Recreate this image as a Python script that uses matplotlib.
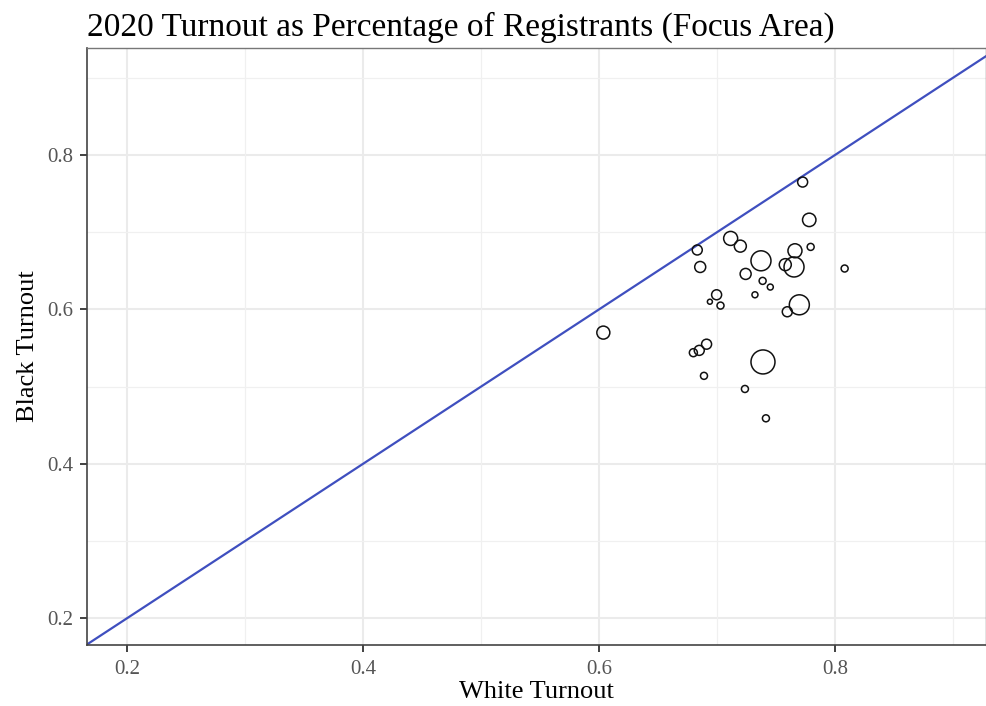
import numpy as np
import matplotlib.pyplot as plt

# White vs Black turnout per precinct, with a relative size weight
white_turnout = [0.7726, 0.7782, 0.7116, 0.7198, 0.6833, 0.6858, 0.7373, 0.7661,
                 0.7794, 0.7579, 0.7653, 0.8082, 0.7243, 0.7387, 0.7452, 0.7322,
                 0.6997, 0.6940, 0.7030, 0.7698, 0.7596, 0.6037, 0.6912, 0.6850,
                 0.6800, 0.7390, 0.6890, 0.7237, 0.7415]
black_turnout = [0.765, 0.716, 0.692, 0.682, 0.677, 0.655, 0.663, 0.676,
                 0.681, 0.658, 0.655, 0.653, 0.646, 0.637, 0.629, 0.619,
                 0.619, 0.610, 0.605, 0.606, 0.597, 0.570, 0.555, 0.547,
                 0.544, 0.532, 0.514, 0.497, 0.459]
weight = [5, 6.7, 7, 6, 5, 5.5, 10, 7,
          3.5, 6, 10, 3.5, 5.5, 3.5, 3, 3,
          5, 2.5, 3.5, 10, 5, 6.5, 5, 5,
          4, 12, 3.5, 3.5, 3.5]

plt.rcParams['font.family'] = ['Liberation Serif', 'DejaVu Serif']

fig = plt.figure(figsize=(9.86, 7.06), dpi=100)
ax = fig.add_axes([0.0882, 0.0864, 0.9118, 0.8456])

x_lo, x_hi = 0.1661, 0.928
y_lo, y_hi = 0.1654, 0.9386
ax.set_xlim(x_lo, x_hi)
ax.set_ylim(y_lo, y_hi)

# grid like theme_bw
for v in [0.2, 0.4, 0.6, 0.8]:
    ax.axvline(v, color='#ebebeb', lw=1.5, zorder=0)
    ax.axhline(v, color='#ebebeb', lw=1.5, zorder=0)
for v in [0.3, 0.5, 0.7, 0.9]:
    ax.axvline(v, color='#f0f0f0', lw=0.9, zorder=0)
    ax.axhline(v, color='#f0f0f0', lw=0.9, zorder=0)

# y = x reference line
ax.plot([x_lo, x_hi], [x_lo, x_hi], color='#3f4fbf', lw=1.6, zorder=2)

sizes = [(2 * w * 0.72) ** 2 for w in weight]
ax.scatter(white_turnout, black_turnout, s=sizes, facecolors='none',
           edgecolors='#111111', linewidths=1.1, zorder=3)

ax.set_xticks([0.2, 0.4, 0.6, 0.8])
ax.set_yticks([0.2, 0.4, 0.6, 0.8])
ax.set_xticklabels(['0.2', '0.4', '0.6', '0.8'])
ax.set_yticklabels(['0.2', '0.4', '0.6', '0.8'])
ax.tick_params(direction='out', length=5, width=1.3, color='#333333',
               labelcolor='#555555', labelsize=15)
ax.tick_params(axis='x', pad=6)
ax.tick_params(axis='y', pad=5)

for side in ['left', 'bottom']:
    ax.spines[side].set_color('#444444')
    ax.spines[side].set_linewidth(1.2)
for side in ['top', 'right']:
    ax.spines[side].set_color('#777777')
    ax.spines[side].set_linewidth(1.0)

ax.set_xlabel('White Turnout', fontsize=19, labelpad=1)
ax.set_ylabel('Black Turnout', fontsize=19, labelpad=6)
fig.text(0.0882, 0.949, '2020 Turnout as Percentage of Registrants (Focus Area)',
         fontsize=24, ha='left', va='baseline')

fig.savefig('out.png', dpi=100)
